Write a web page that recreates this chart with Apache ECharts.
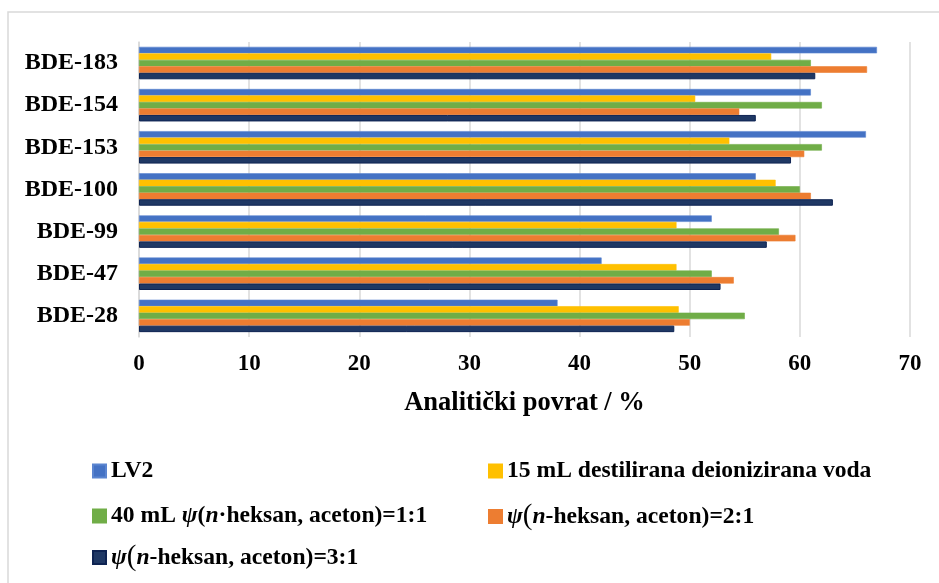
<!DOCTYPE html>
<html>
<head>
<meta charset="utf-8">
<script src="https://cdn.jsdelivr.net/npm/echarts@6/dist/echarts.min.js"></script>
<style>
html,body{margin:0;padding:0;background:#fff;}
#main{width:939px;height:583px;}
</style>
</head>
<body>
<div id="main"></div>
<script>
const categories = ['BDE-183', 'BDE-154', 'BDE-153', 'BDE-100', 'BDE-99', 'BDE-47', 'BDE-28'];
const seriesNames = [
  'LV2',
  '15 mL destilirana deionizirana voda',
  '40 mL ψ(n·heksan, aceton)=1:1',
  'ψ(n-heksan, aceton)=2:1',
  'ψ(n-heksan, aceton)=3:1'
];
const lv2 =        [67, 61, 66, 56, 52, 42, 38];
const voda15 =     [57.4, 50.5, 53.6, 57.8, 48.8, 48.8, 49];
const heksan11 =   [61, 62, 62, 60, 58.1, 52, 55];
const heksan21 =   [66.1, 54.5, 60.4, 61, 59.6, 54, 50];
const heksan31 =   [61.4, 56, 59.2, 63, 57, 52.8, 48.6];
const xTicks = { min: 0, max: 70, interval: 10 };

const colors = ['#4472C4', '#FFC000', '#70AD47', '#ED7D31', '#1F3864'];
const borders = ['#5B85D0', '#FFC000', '#70AD47', '#ED7D31', '#0E2352'];
const values = [lv2, voda15, heksan11, heksan21, heksan31];

const FONT = '"Liberation Serif", "Times New Roman", serif';

const richLabels = {};
richLabels[seriesNames[0]] = 'LV2';
richLabels[seriesNames[1]] = '15 mL destilirana deionizirana voda';
richLabels[seriesNames[2]] = '40 mL {i|ψ}({i|n}·heksan, aceton)=1:1';
richLabels[seriesNames[3]] = '{i|ψ}{p|(}{i|n}-heksan, aceton)=2:1';
richLabels[seriesNames[4]] = '{i|ψ}{p|(}{i|n}-heksan, aceton)=3:1';

const LFS = 23.6;
const rich = {
  i: { fontFamily: FONT, fontWeight: 'bold', fontStyle: 'italic', fontSize: LFS, color: '#000', lineHeight: 28 },
  p: { fontFamily: FONT, fontWeight: 'normal', fontSize: 29, color: '#000', lineHeight: 28 }
};

const legendPos = [
  { left: 92, top: 457 },
  { left: 488, top: 457 },
  { left: 92, top: 502 },
  { left: 488, top: 502 },
  { left: 92, top: 543 }
];

const chart = echarts.init(document.getElementById('main'), null, { renderer: 'canvas' });

const option = {
  backgroundColor: '#fff',
  animation: false,
  graphic: [{
    type: 'rect',
    shape: { x: 8, y: 12, width: 960, height: 620 },
    style: { fill: 'none', stroke: '#D9D9D9', lineWidth: 1.5 },
    silent: true,
    z: -1
  }],
  grid: { left: 139, right: 29, top: 42, bottom: 246, containLabel: false },
  xAxis: {
    type: 'value',
    min: xTicks.min, max: xTicks.max, interval: xTicks.interval,
    name: 'Analitički povrat / %',
    nameLocation: 'middle',
    nameGap: 53,
    nameTextStyle: { fontFamily: FONT, fontWeight: 'bold', fontSize: 26.5, color: '#000' },
    axisLine: { show: false },
    axisTick: { show: false },
    axisLabel: { fontFamily: FONT, fontWeight: 'bold', fontSize: 23, color: '#000', margin: 16 },
    splitLine: { show: true, lineStyle: { color: '#D9D9D9', width: 1.5 } }
  },
  yAxis: {
    type: 'category',
    inverse: true,
    data: categories,
    axisLine: { show: true, lineStyle: { color: '#D9D9D9', width: 1.5 } },
    axisTick: { show: false },
    axisLabel: { fontFamily: FONT, fontWeight: 'bold', fontSize: 24, color: '#000', margin: 21 }
  },
  legend: seriesNames.map((n, k) => ({
    data: [n],
    left: legendPos[k].left,
    top: legendPos[k].top,
    padding: 0,
    itemWidth: 13,
    itemHeight: 13,
    itemGap: 0,
    icon: 'rect',
    selectedMode: false,
    formatter: name => richLabels[name],
    textStyle: { fontFamily: FONT, fontWeight: 'bold', fontSize: LFS, lineHeight: 28, color: '#000', rich: rich }
  })),
  series: seriesNames.map((n, k) => ({
    name: n,
    type: 'bar',
    data: values[k],
    barGap: '0%',
    barCategoryGap: '23%',
    itemStyle: { color: colors[k], borderColor: borders[k], borderWidth: k === 4 ? 1 : 0.6 }
  }))
};
chart.setOption(option);
</script>
</body>
</html>
